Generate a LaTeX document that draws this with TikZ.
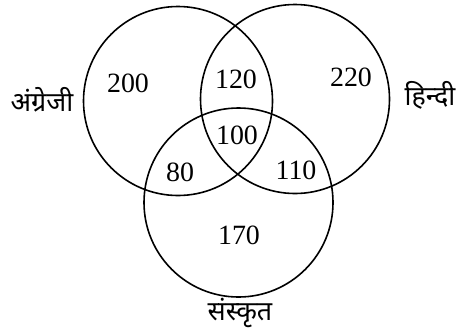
\documentclass[tikz,border=0pt]{standalone}
\usepackage{fontspec}
\setmainfont{Liberation Serif}
\newfontfamily\devfont[Script=Devanagari]{Noto Sans}
\begin{document}
\begin{tikzpicture}[x=1bp,y=-1bp,
  setcircle/.style={circle,draw=black,line width=1.6bp,minimum size=189bp,inner sep=0pt},
  num/.style={font=\fontsize{28}{28}\selectfont,inner sep=0pt},
  lab/.style={font=\devfont\fontsize{27}{27}\selectfont,inner sep=0pt}]
\useasboundingbox (0,0) rectangle (461,334);
\node[setcircle] (eng) at (178,101) {};
\node[setcircle] (hin) at (295,99) {};
\node[setcircle] (san) at (238.5,202.5) {};
\node[num] (n200) at (128,83) {200};
\node[num] (n120) at (236,79) {120};
\node[num] (n220) at (351,77) {220};
\node[num] (n100) at (237,135) {100};
\node[num] (n80) at (180,172) {80};
\node[num] (n110) at (296,170) {110};
\node[num] (n170) at (239,235) {170};
\node[lab] (leng) at (42,100) {अंग्रेजी};
\node[lab] (lhin) at (430,95) {हिन्दी};
\node[lab] (lsan) at (240,313) {संस्कृत};
\end{tikzpicture}
\end{document}
